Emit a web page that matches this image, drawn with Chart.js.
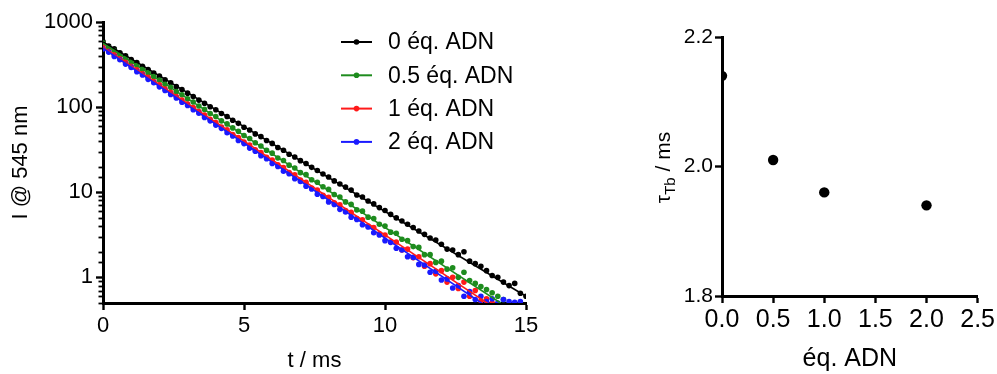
<!DOCTYPE html>
<html><head><meta charset="utf-8">
<script src="https://cdn.jsdelivr.net/npm/chart.js@4/dist/chart.umd.min.js"></script>
<style>
html,body{margin:0;padding:0;background:#fff;width:997px;height:374px;overflow:hidden;}
#c1{position:absolute;left:0;top:0;width:560px;height:374px;}
#c2{position:absolute;left:640px;top:0;width:357px;height:374px;}
</style></head><body>
<canvas id="c1" width="560" height="374"></canvas>
<canvas id="c2" width="357" height="374"></canvas>
<script>
// ---------- data: left panel (decays) ----------
const seriesLabels = ['0 éq. ADN', '0.5 éq. ADN', '1 éq. ADN', '2 éq. ADN'];
const seriesColors = ['#000000', '#1e8c1e', '#ff1a1a', '#1a1aff'];
const times = [0,0.2,0.4,0.6,0.8,1,1.2,1.4,1.6,1.8,2,2.2,2.4,2.6,2.8,3,3.2,3.4,3.6,3.8,4,4.2,4.4,4.6,4.8,5,5.2,5.4,5.6,5.8,6,6.2,6.4,6.6,6.8,7,7.2,7.4,7.6,7.8,8,8.2,8.4,8.6,8.8,9,9.2,9.4,9.6,9.8,10,10.2,10.4,10.6,10.8,11,11.2,11.4,11.6,11.8,12,12.2,12.4,12.6,12.8,13,13.2,13.4,13.6,13.8,14,14.2,14.4,14.6,14.8,15];
const int0 = [590,522,483,434,400,362,333,302,277,252,231,209,193,174,161,146,133,121,111,101,93,84,77.5,70,64.5,58,53.8,48.5,45,40.5,37.5,33.5,31.2,28,26,23.5,21.8,19.6,18,16.4,15.1,13.6,12.5,11.5,10.6,9.3,8.8,7.9,7.3,6.6,6.1,5.5,5.0,4.6,4.2,3.85,3.5,3.2,2.9,2.75,2.45,2.15,2.1,1.85,2.0,1.55,1.45,1.35,1.2,1.05,1.0,0.88,0.8,0.85,0.65,0.6];
const int05 = [565,502,462,412,378,338,310,278,254,228,208,186,171,152,140,125,115,103,94,84,77.5,69,63.5,57,52,46.5,42.8,38.2,35,31.2,28.8,25.3,23.6,20.8,19.3,17,16.1,14,13.1,11.6,10.8,9.4,8.8,7.7,7.2,6.2,6.0,5.1,4.9,4.2,4.0,3.4,3.3,2.8,2.7,2.3,2.25,1.85,1.85,1.5,1.55,1.25,1.3,1.0,1.15,0.92,0.85,0.78,0.72,0.66,0.6,0.55];
const int1 = [510,454,413,370,336,302,274,246,224,200,183,163,149,133,121.5,108.5,99,88.5,80.5,72,66,58.5,54,47.6,44,38.8,35.8,31.6,29.3,25.8,23.9,21,19.5,17,16,13.9,13.1,11.2,10.6,9.2,8.7,7.5,7.1,6.1,5.8,4.9,4.75,4.0,3.85,3.25,3.15,2.6,2.6,2.1,2.15,1.7,1.75,1.35,1.45,1.1,1.2,0.88,1.0,0.74,0.88,0.6,0.7,0.53,0.56,0.5];
const int2 = [482,443,394,360,320,293,261,238,212,193,173,157,141,128,114,104.5,93,85,75.5,69,61.5,56.3,50,45.8,40.6,37.3,33,30.4,26.9,24.7,21.8,20.1,17.7,16.5,14.4,13.4,11.8,10.9,9.5,8.9,7.7,7.2,6.3,5.85,5.1,4.8,4.15,3.9,3.35,3.15,2.7,2.58,2.2,2.1,1.75,1.72,1.42,1.4,1.15,1.18,0.93,0.96,0.75,0.8,0.6,0.68,0.55,0.6,0.52,0.56,0.5,0.55,0.52,0.51,0.52];
// fitted mono-exponential lines (start / end)
const fitT0 = [0, 0, 0, 0];
const fitI0 = [585, 562, 507, 492];
const fitT1 = [15, 14.1, 13.7, 13.5];
const fitI1 = [0.6, 0.5, 0.48, 0.48];
const logMajorTicks = [1, 10, 100, 1000];

// ---------- data: right panel (lifetimes) ----------
const eqADN = [0, 0.5, 1, 2];
const tauTb = [2.14, 2.01, 1.96, 1.94];
const xTicksRight = [0, 0.5, 1, 1.5, 2, 2.5];
const yTicksRight = [1.8, 2.0, 2.2];

const FONT = "'Liberation Sans', Arial, Helvetica, sans-serif";
const intensities = [int0, int05, int1, int2];

function isMajorLog(v){ const l = Math.log10(v); return Math.abs(l - Math.round(l)) < 1e-9; }

const datasetsLeft = [];
intensities.forEach((arr, i) => {
  datasetsLeft.push({
    label: seriesLabels[i],
    data: arr.map((v, k) => ({x: times[k], y: v})),
    backgroundColor: seriesColors[i],
    borderColor: seriesColors[i],
    pointRadius: 2.8,
    pointBorderWidth: 0,
    showLine: false,
    order: 8 - i
  });
});
intensities.forEach((arr, i) => {
  datasetsLeft.push({
    label: seriesLabels[i] + ' fit',
    data: [{x: fitT0[i], y: fitI0[i]}, {x: fitT1[i], y: fitI1[i]}],
    borderColor: seriesColors[i],
    backgroundColor: seriesColors[i],
    borderWidth: 1.6,
    pointRadius: 0,
    showLine: true,
    order: 4 - i
  });
});

const minorTickPlugin = {
  id: 'minorTicks',
  afterDraw(chart){
    const s = chart.scales.y, ctx = chart.ctx;
    ctx.save();
    ctx.strokeStyle = '#000';
    ctx.lineWidth = 1.8;
    s.ticks.forEach(t => {
      if (isMajorLog(t.value)) return;
      const y = Math.round(s.getPixelForValue(t.value)) + 0.5;
      ctx.beginPath();
      ctx.moveTo(s.right - 4.5, y);
      ctx.lineTo(s.right, y);
      ctx.stroke();
    });
    ctx.restore();
  }
};

const legendPlugin = {
  id: 'insideLegend',
  afterDraw(chart){
    const a = chart.chartArea, ctx = chart.ctx;
    ctx.save();
    ctx.font = '23px ' + FONT;
    ctx.textBaseline = 'middle';
    ctx.textAlign = 'left';
    seriesLabels.forEach((lab, i) => {
      const y = a.top + 20 + i * 33.3;
      const x0 = a.left + 238;
      ctx.strokeStyle = seriesColors[i];
      ctx.fillStyle = seriesColors[i];
      ctx.lineWidth = 2;
      ctx.beginPath(); ctx.moveTo(x0, y); ctx.lineTo(x0 + 31, y); ctx.stroke();
      ctx.beginPath(); ctx.arc(x0 + 15.5, y, 2.8, 0, Math.PI * 2); ctx.fill();
      ctx.fillStyle = '#000';
      ctx.fillText(lab, x0 + 47, y + 1);
    });
    ctx.restore();
  }
};

new Chart(document.getElementById('c1'), {
  type: 'scatter',
  data: { datasets: datasetsLeft },
  options: {
    responsive: false, animation: false, devicePixelRatio: 1,
    layout: { padding: { top: 22, right: 34, left: 0, bottom: 0 } },
    plugins: { legend: { display: false }, tooltip: { enabled: false } },
    scales: {
      x: {
        type: 'linear', min: 0, max: 15,
        afterFit(s){ s.height = 71; },
        ticks: { stepSize: 5, color: '#000', font: { family: FONT, size: 22 }, padding: 3, maxRotation: 0 },
        grid: { display: true, drawOnChartArea: false, drawTicks: true, tickLength: 7, tickWidth: 2.4, tickColor: '#000', color: '#000' },
        border: { display: true, color: '#000', width: 3 },
        title: { display: true, text: 't / ms', color: '#000', font: { family: FONT, size: 22 }, padding: { top: 0, bottom: 0 } }
      },
      y: {
        type: 'logarithmic', min: 0.5, max: 1000,
        afterFit(s){ s.width = 103; },
        ticks: {
          autoSkip: false, color: '#000', font: { family: FONT, size: 22 }, padding: 3,
          callback: (v) => logMajorTicks.some(m => Math.abs(m - v) < 1e-9) ? String(v) : ''
        },
        grid: { display: true, drawOnChartArea: false, drawTicks: true, tickLength: 7, tickWidth: 2.4,
          tickColor: (c) => (c.tick && isMajorLog(c.tick.value)) ? '#000' : 'rgba(0,0,0,0)', color: '#000' },
        border: { display: true, color: '#000', width: 3 },
        title: { display: true, text: 'I @ 545 nm', color: '#000', font: { family: FONT, size: 22 }, padding: { top: 8, bottom: 0 } }
      }
    }
  },
  plugins: [minorTickPlugin, legendPlugin]
});

// ---------- right panel ----------
const yTitlePlugin = {
  id: 'tauTitle',
  afterDraw(chart){
    const a = chart.chartArea, ctx = chart.ctx;
    const cx = a.left - 52, cy = (a.top + a.bottom) / 2 + 1;
    ctx.save();
    ctx.translate(cx, cy);
    ctx.rotate(-Math.PI / 2);
    ctx.fillStyle = '#000';
    ctx.textBaseline = 'alphabetic';
    ctx.textAlign = 'left';
    const big = '21px ' + FONT, small = '15px ' + FONT;
    ctx.font = big; const w1 = ctx.measureText('τ').width;
    ctx.font = small; const w2 = ctx.measureText('Tb').width;
    ctx.font = big; const w3 = ctx.measureText(' / ms').width;
    let x = -(w1 + w2 + w3) / 2;
    ctx.font = big; ctx.fillText('τ', x, 0); x += w1;
    ctx.font = small; ctx.fillText('Tb', x, 5); x += w2;
    ctx.font = big; ctx.fillText(' / ms', x, 0);
    ctx.restore();
  }
};

new Chart(document.getElementById('c2'), {
  type: 'scatter',
  data: { datasets: [{
    label: 'τTb',
    data: eqADN.map((v, i) => ({x: v, y: tauTb[i]})),
    backgroundColor: '#000', borderColor: '#000',
    pointRadius: 5.2, pointBorderWidth: 0
  }]},
  options: {
    responsive: false, animation: false, devicePixelRatio: 1,
    layout: { padding: { top: 37, right: 18, left: 0, bottom: 0 } },
    plugins: { legend: { display: false }, tooltip: { enabled: false } },
    scales: {
      x: {
        type: 'linear', min: 0, max: 2.5,
        afterFit(s){ s.height = 78; },
        afterBuildTicks(s){ s.ticks = xTicksRight.map(v => ({value: v})); },
        ticks: { color: '#000', font: { family: FONT, size: 25 }, padding: 2, maxRotation: 0, autoSkip: false,
          callback: (v) => Number(v).toFixed(1) },
        grid: { display: true, drawOnChartArea: false, drawTicks: true, tickLength: 7, tickWidth: 2.4, tickColor: '#000', color: '#000' },
        border: { display: true, color: '#000', width: 3 },
        title: { display: true, text: 'éq. ADN', color: '#000', font: { family: FONT, size: 25 }, padding: { top: 0, bottom: 0 } }
      },
      y: {
        type: 'linear', min: 1.8, max: 2.2,
        afterFit(s){ s.width = 82; },
        afterBuildTicks(s){ s.ticks = yTicksRight.map(v => ({value: v})); },
        ticks: { color: '#000', font: { family: FONT, size: 21 }, padding: 2, autoSkip: false,
          callback: (v) => Number(v).toFixed(1) },
        grid: { display: true, drawOnChartArea: false, drawTicks: true, tickLength: 7, tickWidth: 2.4, tickColor: '#000', color: '#000' },
        border: { display: true, color: '#000', width: 3 },
        title: { display: false }
      }
    }
  },
  plugins: [yTitlePlugin]
});
</script>
</body></html>
